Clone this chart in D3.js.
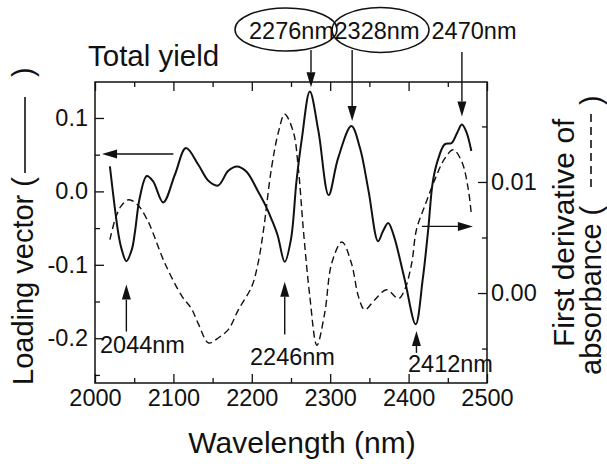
<!DOCTYPE html>
<html>
<head>
<meta charset="utf-8">
<script src="https://cdn.jsdelivr.net/npm/d3@7"></script>
<style>
  body { margin: 0; background: #fff; }
  text { font-family: "Liberation Sans", Arial, sans-serif; fill: #111; }
</style>
</head>
<body>
<div id="chart"></div>
<script>
// loading vector (solid, left axis)
var loadingNm = [2019, 2030, 2034, 2040, 2047, 2051, 2057, 2066, 2074, 2087, 2102, 2116, 2132, 2145, 2157,
                 2170, 2181, 2193, 2208, 2217, 2226, 2233, 2242, 2250, 2257, 2264, 2274, 2285, 2298, 2310,
                 2327, 2338, 2349, 2361, 2367, 2374, 2381, 2395, 2409, 2418, 2425, 2431, 2438, 2446, 2455,
                 2462, 2468, 2474, 2480];
var loadingVal = [0.034, -0.059, -0.079, -0.095, -0.079, -0.055, -0.009, 0.021, 0.014, -0.015, 0.023, 0.059, 0.036, 0.014, 0.008,
                  0.028, 0.034, 0.027, 0.0, -0.018, -0.04, -0.06, -0.096, -0.065, 0.014, 0.073, 0.136, 0.082, -0.005, 0.045,
                  0.089, 0.059, 0.0, -0.068, -0.055, -0.043, -0.06, -0.12, -0.181, -0.12, -0.052, 0.014, 0.045, 0.064, 0.066,
                  0.08, 0.091, 0.08, 0.055];

// first derivative of absorbance (dashed, right axis)
var derivNm = [2019, 2026, 2033, 2043, 2055, 2068, 2074, 2089, 2111, 2123, 2132, 2145, 2158, 2170, 2183,
               2200, 2208, 2215, 2225, 2234, 2242, 2253, 2259, 2266, 2274, 2283, 2293, 2302, 2315, 2327,
               2336, 2344, 2357, 2372, 2387, 2395, 2404, 2410, 2421, 2434, 2446, 2457, 2468, 2476, 2480];
var derivVal = [0.0048, 0.0067, 0.0078, 0.0084, 0.0079, 0.0064, 0.0054, 0.0027, -0.0003, -0.0014, -0.0028, -0.0045, -0.0040, -0.0033, -0.0015,
                0.0006, 0.0027, 0.0057, 0.0112, 0.0145, 0.0161, 0.0145, 0.0115, 0.0055, -0.0003, -0.0047, -0.0018, 0.0027, 0.0046, 0.0027,
                -0.0003, -0.0015, -0.0006, 0.0003, -0.0005, 0.0003, 0.0027, 0.0057, 0.0079, 0.0103, 0.0121, 0.0129, 0.0118, 0.0094, 0.0071];

var xMajor = [2000, 2100, 2200, 2300, 2400, 2500];
var xMinor = [2050, 2150, 2250, 2350, 2450];
var leftMajor = [-0.2, -0.1, 0.0, 0.1];
var leftMinor = [-0.25, -0.15, -0.05, 0.05];
var rightMajor = [0.00, 0.01];
var rightMinor = [-0.005, 0.005, 0.015];

// marked wavelengths
var topPeaks = ["2276nm", "2328nm", "2470nm"];
var topPeakNm = [2275.5, 2328, 2468];
var lowPeaks = ["2044nm", "2246nm", "2412nm"];
var lowPeakNm = [2040, 2242, 2410];

var width = 607, height = 464;
var plotL = 95, plotR = 487, plotT = 82, plotB = 383;

var svg = d3.select("#chart").append("svg")
    .attr("width", width)
    .attr("height", height);

var x = d3.scaleLinear().domain([2000, 2500]).range([plotL, plotR]);
var yL = d3.scaleLinear().domain([-0.261, 0.149]).range([plotB, plotT]);
var yR = d3.scaleLinear().domain([-0.0081, 0.019]).range([plotB, plotT]);

function hyphen(f) {
    return function(d) { return d3.format(f)(d).replace("\u2212", "-"); };
}

function styleAxis(g) {
    g.select(".domain").remove();
    g.selectAll("line").attr("stroke", "#111").attr("stroke-width", 1.3);
    g.selectAll("text").attr("font-size", "23.5px").attr("fill", "#111")
        .attr("font-family", "'Liberation Sans', Arial, sans-serif");
}

// bottom + top
svg.append("g").attr("transform", "translate(0," + plotB + ")")
    .call(d3.axisBottom(x).tickValues(xMajor).tickSizeInner(-9).tickSizeOuter(0).tickPadding(6).tickFormat(d3.format("d")))
    .call(styleAxis);
svg.append("g").attr("transform", "translate(0," + plotB + ")")
    .call(d3.axisBottom(x).tickValues(xMinor).tickSizeInner(-5).tickSizeOuter(0).tickFormat(""))
    .call(styleAxis);
svg.append("g").attr("transform", "translate(0," + plotT + ")")
    .call(d3.axisTop(x).tickValues(xMajor).tickSizeInner(-9).tickSizeOuter(0).tickFormat(""))
    .call(styleAxis);
svg.append("g").attr("transform", "translate(0," + plotT + ")")
    .call(d3.axisTop(x).tickValues(xMinor).tickSizeInner(-5).tickSizeOuter(0).tickFormat(""))
    .call(styleAxis);

// left
svg.append("g").attr("transform", "translate(" + plotL + ",0)")
    .call(d3.axisLeft(yL).tickValues(leftMajor).tickSizeInner(-9).tickSizeOuter(0).tickPadding(7).tickFormat(hyphen(".1f")))
    .call(styleAxis);
svg.append("g").attr("transform", "translate(" + plotL + ",0)")
    .call(d3.axisLeft(yL).tickValues(leftMinor).tickSizeInner(-5).tickSizeOuter(0).tickFormat(""))
    .call(styleAxis);

// right
svg.append("g").attr("transform", "translate(" + plotR + ",0)")
    .call(d3.axisRight(yR).tickValues(rightMajor).tickSizeInner(-9).tickSizeOuter(0).tickPadding(4).tickFormat(hyphen(".2f")))
    .call(styleAxis);
svg.append("g").attr("transform", "translate(" + plotR + ",0)")
    .call(d3.axisRight(yR).tickValues(rightMinor).tickSizeInner(-5).tickSizeOuter(0).tickFormat(""))
    .call(styleAxis);

svg.append("rect")
    .attr("x", plotL).attr("y", plotT)
    .attr("width", plotR - plotL).attr("height", plotB - plotT)
    .attr("fill", "none").attr("stroke", "#111").attr("stroke-width", 1.5);

// curves
var solidLine = d3.line()
    .x(function(d, i) { return x(loadingNm[i]); })
    .y(function(d) { return yL(d); })
    .curve(d3.curveCatmullRom.alpha(0.5));
svg.append("path")
    .datum(loadingVal)
    .attr("d", solidLine)
    .attr("fill", "none").attr("stroke", "#111").attr("stroke-width", 2);

var dashLine = d3.line()
    .x(function(d, i) { return x(derivNm[i]); })
    .y(function(d) { return yR(d); })
    .curve(d3.curveCatmullRom.alpha(0.5));
svg.append("path")
    .datum(derivVal)
    .attr("d", dashLine)
    .attr("fill", "none").attr("stroke", "#111").attr("stroke-width", 1.4)
    .attr("stroke-dasharray", "7,4");

// arrows
function arrow(x1, y1, x2, y2) {
    var ang = Math.atan2(y2 - y1, x2 - x1);
    var len = 15, half = 4.5;
    var bx = x2 - len * Math.cos(ang), by = y2 - len * Math.sin(ang);
    svg.append("line")
        .attr("x1", x1).attr("y1", y1).attr("x2", bx).attr("y2", by)
        .attr("stroke", "#111").attr("stroke-width", 1.4);
    svg.append("path")
        .attr("d", "M" + x2 + "," + y2 +
            "L" + (bx + half * Math.sin(ang)) + "," + (by - half * Math.cos(ang)) +
            "L" + (bx - half * Math.sin(ang)) + "," + (by + half * Math.cos(ang)) + "Z")
        .attr("fill", "#111");
}

// axis pointers
arrow(x(2100), yL(0.051), x(2009), yL(0.051));
arrow(x(2417), yR(0.006), x(2482), yR(0.006));

// top peaks
var topTip = [yL(0.142), yL(0.096), yL(0.102)];
for (var i = 0; i < topPeaks.length; i++) {
    arrow(x(topPeakNm[i]), i < 2 ? 50 : 52, x(topPeakNm[i]), topTip[i]);
}
var topLabelX = [291.5, 377, 474];
for (var i = 0; i < topPeaks.length; i++) {
    svg.append("text")
        .attr("x", topLabelX[i]).attr("y", 39)
        .attr("text-anchor", "middle")
        .attr("font-size", "23.5px")
        .text(topPeaks[i]);
}
svg.append("ellipse").attr("cx", 286).attr("cy", 29.5).attr("rx", 51).attr("ry", 21.5)
    .attr("fill", "none").attr("stroke", "#111").attr("stroke-width", 1.5);
svg.append("ellipse").attr("cx", 380.5).attr("cy", 30).attr("rx", 48.5).attr("ry", 22.5)
    .attr("fill", "none").attr("stroke", "#111").attr("stroke-width", 1.5);

// bottom peaks
var lowTip = [yL(-0.127), yL(-0.123), yL(-0.19)];
var lowBase = [yL(-0.191), yL(-0.195), yL(-0.22)];
var lowLabelX = [100, 250, 408];
var lowLabelY = [353, 365, 372];
for (var i = 0; i < lowPeaks.length; i++) {
    arrow(x(lowPeakNm[i]), lowBase[i], x(lowPeakNm[i]), lowTip[i]);
    svg.append("text")
        .attr("x", lowLabelX[i]).attr("y", lowLabelY[i])
        .attr("font-size", "23.5px")
        .text(lowPeaks[i]);
}

// titles
svg.append("text")
    .attr("x", 88).attr("y", 66)
    .attr("font-size", "29.5px")
    .text("Total yield");

svg.append("text")
    .attr("x", 302).attr("y", 453)
    .attr("text-anchor", "middle")
    .attr("font-size", "30px")
    .text("Wavelength (nm)");

var lt = svg.append("g").attr("transform", "translate(33,385) rotate(-90)");
lt.append("text").attr("x", 0).attr("y", 0).attr("font-size", "29px").text("Loading vector (");
lt.append("line").attr("x1", 212).attr("x2", 288).attr("y1", -8).attr("y2", -8)
    .attr("stroke", "#111").attr("stroke-width", 1.6);
lt.append("text").attr("x", 308).attr("y", 0).attr("font-size", "29px").text(")");

var rt = svg.append("g").attr("transform", "translate(574,347) rotate(-90)");
rt.append("text").attr("x", 0).attr("y", 0).attr("font-size", "30px").text("First derivative of");

var rt2 = svg.append("g").attr("transform", "translate(601,375) rotate(-90)");
rt2.append("text").attr("x", 0).attr("y", 0).attr("font-size", "29px").text("absorbance (");
rt2.append("line").attr("x1", 188).attr("x2", 262).attr("y1", -10).attr("y2", -10)
    .attr("stroke", "#111").attr("stroke-width", 1.6).attr("stroke-dasharray", "8,5");
rt2.append("text").attr("x", 270).attr("y", 0).attr("font-size", "29px").text(")");
</script>
</body>
</html>
